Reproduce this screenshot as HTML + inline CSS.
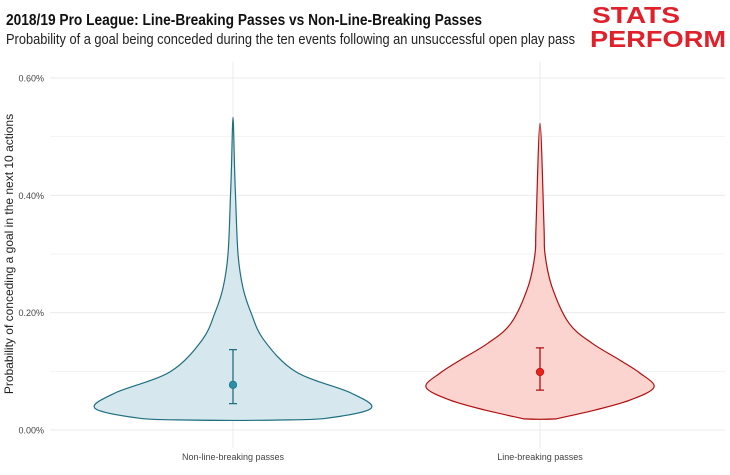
<!DOCTYPE html>
<html><head><meta charset="utf-8"><style>
body{margin:0;background:#fff;}
svg{display:block;font-family:"Liberation Sans",sans-serif;}
</style></head><body>
<svg id="chart" width="730" height="475" viewBox="0 0 730 475">
<text x="6" y="25" font-size="16" font-weight="bold" fill="#111" textLength="476" lengthAdjust="spacingAndGlyphs">2018/19 Pro League: Line-Breaking Passes vs Non-Line-Breaking Passes</text>
<text x="6" y="44" font-size="14.5" fill="#222" textLength="569" lengthAdjust="spacingAndGlyphs">Probability of a goal being conceded during the ten events following an unsuccessful open play pass</text>
<g>
<text x="592" y="23" font-size="23" font-weight="bold" fill="#e0202a" textLength="88" lengthAdjust="spacingAndGlyphs">STATS</text>
<text x="590" y="47" font-size="23" font-weight="bold" fill="#e0202a" textLength="136" lengthAdjust="spacingAndGlyphs">PERFORM</text>
</g>
<g id="grid"></g>
<g id="violins"></g>
<text transform="translate(13,254) rotate(-90)" text-anchor="middle" font-size="12" fill="#222">Probability of conceding a goal in the next 10 actions</text>
</svg>
<script>
const categories = ["Non-line-breaking passes", "Line-breaking passes"];
const yTicks = [0, 0.2, 0.4, 0.6];
const yTickLabels = ["0.00%", "0.20%", "0.40%", "0.60%"];
const minorTicks = [0.1, 0.3, 0.5];
const profileY = [
  [0.017,0.02,0.037,0.063,0.099,0.153,0.2,0.242,0.30,0.40,0.45,0.533],
  [0.019,0.034,0.051,0.073,0.097,0.119,0.148,0.182,0.244,0.30,0.346,0.523]
];
const profileDensity = [
  [47,93,138,118,63,31,18,10,5,2.5,1.5,0],
  [16,55,90,114,100,80,52,29,12,5,4,0]
];
const means = [0.077, 0.099];
const lowers = [0.045, 0.068];
const uppers = [0.137, 0.140];
const fills = ["#d6e8ed","#fbd3cf"];
const strokes = ["#1f6f80","#b01010"];
const pointCols = ["#2a8fa8","#e8231a"];

const NS="http://www.w3.org/2000/svg";
const L=50,R=725,CL=79.5,CR=693.5;
const y=v=>430-v/0.6*352;
const x=i=>CL+(CR-CL)*(i+0.5)/categories.length;
const w=d=>d;
function mk(t,a,p){const e=document.createElementNS(NS,t);for(const k in a)e.setAttribute(k,a[k]);p.appendChild(e);return e;}
function smooth(pts){
  let d='M'+pts[0][0].toFixed(1)+','+pts[0][1].toFixed(1);
  for(let i=0;i<pts.length-1;i++){
    const p0=pts[Math.max(0,i-1)],p1=pts[i],p2=pts[i+1],p3=pts[Math.min(pts.length-1,i+2)];
    const c1=[p1[0]+(p2[0]-p0[0])/6,p1[1]+(p2[1]-p0[1])/6];
    const c2=[p2[0]-(p3[0]-p1[0])/6,p2[1]-(p3[1]-p1[1])/6];
    d+=`C${c1[0].toFixed(1)},${c1[1].toFixed(1)} ${c2[0].toFixed(1)},${c2[1].toFixed(1)} ${p2[0].toFixed(1)},${p2[1].toFixed(1)}`;
  }
  return d;
}
const grid=document.getElementById('grid');
minorTicks.forEach(v=>{const l=mk('line',{x1:L,x2:R,y1:y(v),y2:y(v),stroke:'#f3f3f3','stroke-width':1},grid);

});
yTicks.forEach((v,i)=>{const l=mk('line',{x1:L,x2:R,y1:y(v),y2:y(v),stroke:'#ebebeb','stroke-width':1},grid);


const t=mk('text',{x:44,y:y(v)+3.5,'text-anchor':'end','font-size':9,fill:'#444'},grid);t.textContent=yTickLabels[i];

});
categories.forEach((c,i)=>{const l=mk('line',{x1:x(i),x2:x(i),y1:62,y2:448,stroke:'#ebebeb','stroke-width':1},grid);


const t=mk('text',{x:x(i),y:460,'text-anchor':'middle','font-size':9,fill:'#444'},grid);t.textContent=c;

});
const vg=document.getElementById('violins');
categories.forEach((c,i)=>{
  const ys=profileY[i],ds=profileDensity[i],cx=x(i);
  const right=ys.map((v,k)=>[cx+w(ds[k]),y(v)]);
  const left=ys.map((v,k)=>[cx-w(ds[k]),y(v)]).reverse();
  const y0=y(ys[0]), hw=w(ds[0]);
  const d=smooth([...right,...left.slice(1)])+`C${(cx-hw*0.4).toFixed(1)},${(y0+0.5).toFixed(1)} ${(cx+hw*0.4).toFixed(1)},${(y0+0.5).toFixed(1)} ${(cx+hw).toFixed(1)},${y0.toFixed(1)}Z`;
  const p=mk('path',{d:d,fill:fills[i],stroke:strokes[i],'stroke-width':1.2,'stroke-linejoin':'round'},vg);
  
  
  const e=mk('path',{d:`M${cx},${y(lowers[i])}V${y(uppers[i])}M${cx-4},${y(lowers[i])}H${cx+4}M${cx-4},${y(uppers[i])}H${cx+4}`,stroke:strokes[i],'stroke-width':1.3,fill:'none'},vg);
  
  
  const m=mk('circle',{cx:cx,cy:y(means[i]),r:3.8,fill:pointCols[i],stroke:strokes[i],'stroke-width':0.6},vg);
  
  
});
</script>
</body></html>
